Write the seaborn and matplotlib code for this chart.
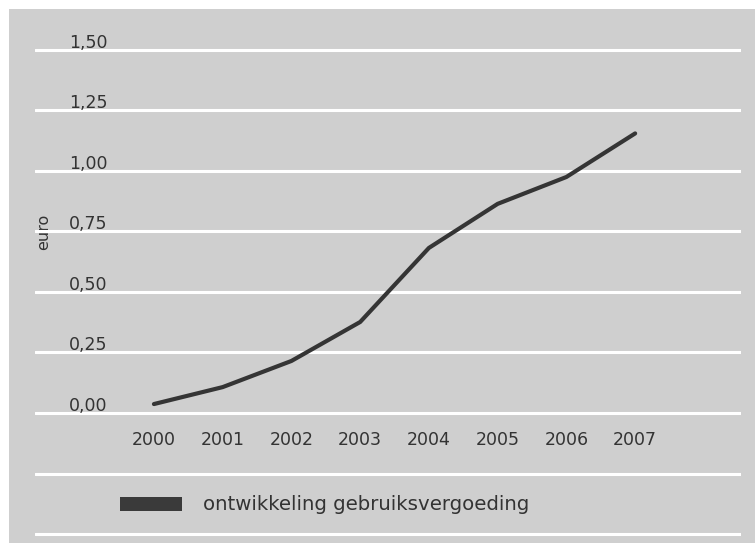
import matplotlib
matplotlib.use("Agg")
import matplotlib.pyplot as plt
import seaborn as sns
import pandas as pd
from matplotlib.patches import Rectangle, Patch

years = [2000, 2001, 2002, 2003, 2004, 2005, 2006, 2007]
values = [0.037, 0.107, 0.215, 0.376, 0.682, 0.864, 0.975, 1.155]
ytick_vals = [0.0, 0.25, 0.5, 0.75, 1.0, 1.25, 1.5]
ytick_labels = ["0,00", "0,25", "0,50", "0,75", "1,00", "1,25", "1,50"]
extra_lines = [-0.25, -0.5]
series_name = "ontwikkeling gebruiksvergoeding"
ylabel = "euro"

sns.set_theme(style="white")
plt.rcParams["font.family"] = ["DejaVu Sans"]

W, H = 755, 543
fig = plt.figure(figsize=(W / 100, H / 100), dpi=100, facecolor="white")
bg = "#cfcfcf"
fig.patches.append(Rectangle((9 / W, 0), 1 - 9 / W, (H - 9) / H,
                             transform=fig.transFigure, facecolor=bg,
                             edgecolor="none", zorder=-10))

ax = fig.add_axes([35 / W, 0, (741 - 35) / W, (H - 9) / H])
ax.set_zorder(5)
ax.patch.set_alpha(0)
for s in ax.spines.values():
    s.set_visible(False)

df = pd.DataFrame({"year": years, "value": values})

for v in ytick_vals + extra_lines:
    ax.axhline(v, color="white", lw=2.2, zorder=1)

sns.lineplot(data=df, x="year", y="value", ax=ax, color="#353535", lw=3.0,
             zorder=3, legend=False)

ax.set_ylim(-0.537, 1.669)
ax.set_xlim(1998.27, 2008.54)
ax.set_xticks([])
ax.set_yticks([])
ax.set_xlabel("")
ax.set_ylabel("")

fs = 12.5
for v, lab in zip(ytick_vals, ytick_labels):
    ax.text((69 - 35) / (741 - 35), v + 0.009, lab, transform=ax.get_yaxis_transform(),
            ha="left", va="baseline", fontsize=fs, color="#333333")

for y in years:
    ax.text(y, -0.112, str(y), ha="center", va="center", fontsize=fs,
            color="#333333")

fig.text(43.5 / W, 1 - 231.5 / H, ylabel, rotation=90, ha="center", va="center",
         fontsize=11.5, color="#333333")

lfs = 14.2
handle = Patch(facecolor="#3a3a3a", edgecolor="none")
em = lfs * 100 / 72
leg = ax.legend([handle], [series_name], loc="center left",
                bbox_to_anchor=((120 - 35) / (741 - 35), (543 - 505) / (H - 9)),
                frameon=False, fontsize=lfs, handlelength=62 / em,
                handleheight=14 / em, handletextpad=(203 - 182) / em,
                labelcolor="#333333", borderaxespad=0, borderpad=0)

fig.savefig("out.png", dpi=100, facecolor="white")
